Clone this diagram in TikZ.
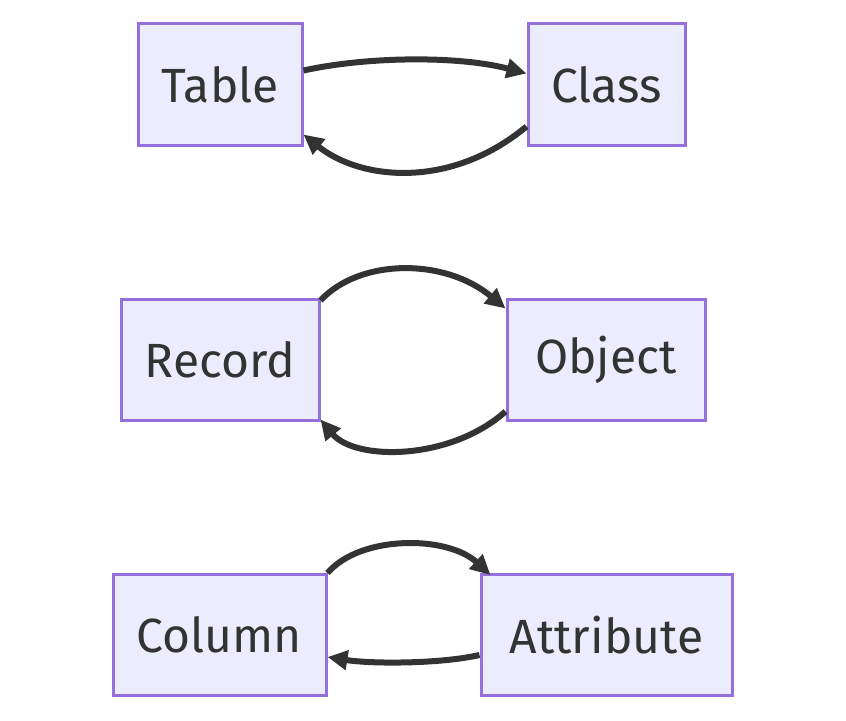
\documentclass[tikz,border=0pt]{standalone}
\usepackage{fontspec}
\setmainfont{Fira Sans}
\usetikzlibrary{arrows.meta}
\definecolor{boxfill}{HTML}{ECECFF}
\definecolor{boxline}{HTML}{9370DB}
\definecolor{edge}{HTML}{333333}
\tikzset{
  box/.style={draw=boxline, fill=boxfill, line width=3bp, inner sep=0pt,
    minimum height=121bp, text=edge, font=\fontsize{48bp}{54bp}\selectfont},
  link/.style={draw=edge, line width=6bp, -{Triangle[length=20bp,width=19bp]}}
}
\begin{document}
\begin{tikzpicture}[x=1bp,y=-1bp]
\useasboundingbox (0,0) rectangle (846,721);
\node[box, minimum width=164bp] (Table) at (220,84.5) {Table};
\node[box, minimum width=157bp] (Class) at (606.5,84.5) {Class};
\node[box, minimum width=198bp] (Record) at (220,359.5) {Record};
\node[box, minimum width=198bp] (Object) at (606,359.5) {Object};
\node[box, minimum width=213bp] (Column) at (219.5,635) {Column};
\node[box, minimum width=251bp] (Attribute) at (606.5,635) {Attribute};
% Table <-> Class
\draw[link] ([yshift=14bp]Table.east) .. controls (370,56) and (460,56) .. ([yshift=11bp]Class.west);
\draw[link] ([yshift=-42bp]Class.west) .. controls (450,190) and (360,180) .. ([yshift=-50bp]Table.east);
% Record <-> Object
\draw[link] ([yshift=-3bp]Record.north east) .. controls (360,258) and (445,258) .. ([yshift=-11bp]Object.north west);
\draw[link] ([yshift=-52bp]Object.west) .. controls (450,461) and (355,461) .. ([yshift=2bp]Record.south east);
% Column <-> Attribute
\draw[link] (Column.north east) .. controls (360,535) and (447,535) .. ([xshift=11bp,yshift=-2bp]Attribute.north west);
\draw[link] ([yshift=-20bp]Attribute.west) .. controls (440,664) and (371,664) .. ([yshift=-22bp]Column.east);
\end{tikzpicture}
\end{document}
